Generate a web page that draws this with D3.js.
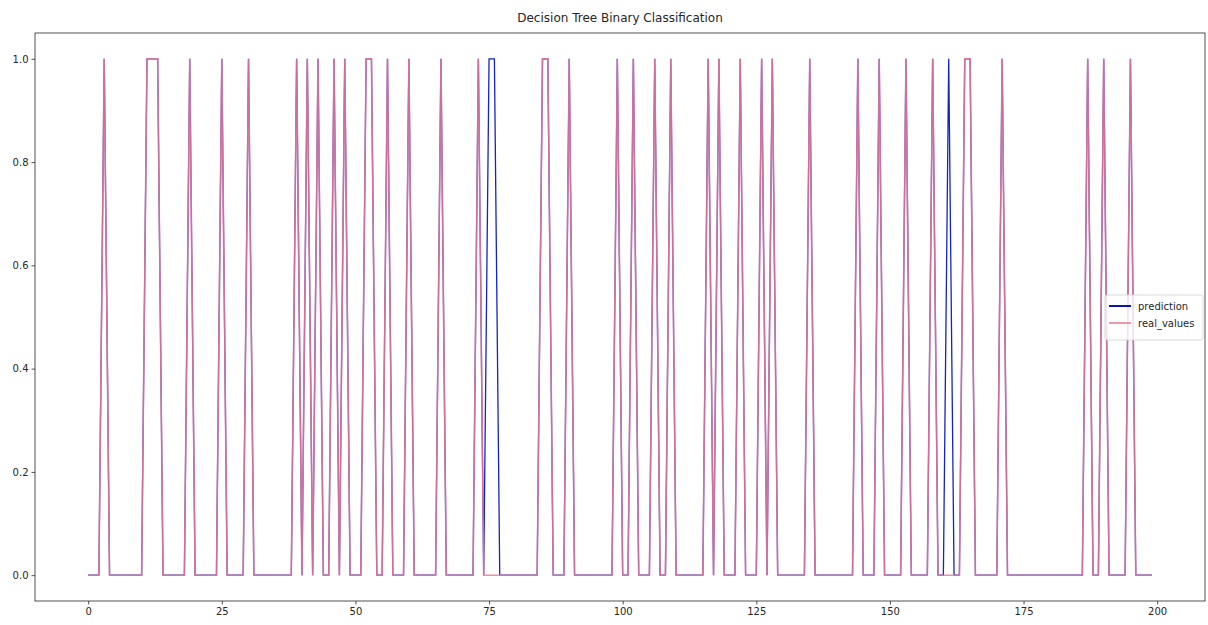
<!DOCTYPE html>
<meta charset="utf-8">
<style>
    body {
        margin: 0;
        background: #fff;
        font-family: "DejaVu Sans", sans-serif;
    }
    .axis text { font-size: 10px; fill: #262626; font-family: "DejaVu Sans", sans-serif; }
    .axis path, .axis line { stroke: #262626; stroke-width: 0.8; }
</style>
<body>
<script src="https://cdn.jsdelivr.net/npm/d3@7"></script>
<script>

// values, index 0..199
var realValues = [
  0,0,0,1,0,0,0,0,0,0,0,1,1,1,0,0,0,0,0,1,
  0,0,0,0,0,1,0,0,0,0,1,0,0,0,0,0,0,0,0,1,
  0,1,0,1,0,0,1,0,1,0,0,0,1,1,0,0,1,0,0,0,
  1,0,0,0,0,0,1,0,0,0,0,0,0,1,0,0,0,0,0,0,
  0,0,0,0,0,1,1,0,0,0,1,0,0,0,0,0,0,0,0,1,
  0,0,1,0,0,0,1,0,0,1,0,0,0,0,0,0,1,0,1,0,
  0,0,1,0,0,0,1,0,1,0,0,0,0,0,0,1,0,0,0,0,
  0,0,0,0,1,0,0,0,1,0,0,0,0,1,0,0,0,0,1,0,
  0,0,0,0,1,1,0,0,0,0,0,1,0,0,0,0,0,0,0,0,
  0,0,0,0,0,0,0,1,0,0,1,0,0,0,0,1,0,0,0,0
];

var prediction = [
  0,0,0,1,0,0,0,0,0,0,0,1,1,1,0,0,0,0,0,1,
  0,0,0,0,0,1,0,0,0,0,1,0,0,0,0,0,0,0,0,1,
  0,1,0,1,0,0,1,0,1,0,0,0,1,1,0,0,1,0,0,0,
  1,0,0,0,0,0,1,0,0,0,0,0,0,1,0,1,1,0,0,0,
  0,0,0,0,0,1,1,0,0,0,1,0,0,0,0,0,0,0,0,1,
  0,0,1,0,0,0,1,0,0,1,0,0,0,0,0,0,1,0,1,0,
  0,0,1,0,0,0,1,0,1,0,0,0,0,0,0,1,0,0,0,0,
  0,0,0,0,1,0,0,0,1,0,0,0,0,1,0,0,0,0,1,0,
  0,1,0,0,1,1,0,0,0,0,0,1,0,0,0,0,0,0,0,0,
  0,0,0,0,0,0,0,1,0,0,1,0,0,0,0,1,0,0,0,0
];

var xTicks = [0, 25, 50, 75, 100, 125, 150, 175, 200];
var yTicks = [0.0, 0.2, 0.4, 0.6, 0.8, 1.0];
var seriesNames = ["prediction", "real_values"];

var width = 1208, height = 625;
var margin = {top: 33, right: 3, bottom: 24, left: 35};
var w = width - margin.left - margin.right,
    h = height - margin.top - margin.bottom;

var svg = d3.select("body").append("svg")
    .attr("width", width)
    .attr("height", height);

var g = svg.append("g")
    .attr("transform", "translate(" + margin.left + "," + margin.top + ")");

// matplotlib style 5% margins
var n = realValues.length;
var x = d3.scaleLinear()
    .domain([-0.05 * (n - 1), (n - 1) * 1.05])
    .range([0, w]);
var y = d3.scaleLinear()
    .domain([-0.05, 1.05])
    .range([h, 0]);

var line = d3.line()
    .x(function(d, i) { return x(i); })
    .y(function(d) { return y(d); });

var colors = ["#1424c0", "#ea7e98"];

g.append("path")
    .datum(prediction)
    .attr("fill", "none")
    .attr("stroke", colors[0])
    .attr("stroke-width", 1.3)
    .attr("d", line);

g.append("path")
    .datum(realValues)
    .attr("fill", "none")
    .attr("stroke", colors[1])
    .attr("stroke-opacity", 0.85)
    .attr("stroke-width", 1.6)
    .attr("d", line);

// axes
g.append("g")
    .attr("class", "axis")
    .attr("transform", "translate(0," + h + ")")
    .call(d3.axisBottom(x).tickValues(xTicks).tickSize(3.5).tickSizeOuter(0).tickFormat(d3.format("d")))
    .call(function(a) { a.select(".domain").remove(); });

g.append("g")
    .attr("class", "axis")
    .call(d3.axisLeft(y).tickValues(yTicks).tickSize(3.5).tickSizeOuter(0).tickFormat(d3.format(".1f")))
    .call(function(a) { a.select(".domain").remove(); });

g.append("rect")
    .attr("width", w)
    .attr("height", h)
    .attr("fill", "none")
    .attr("stroke", "#262626")
    .attr("stroke-width", 0.8);

// title
svg.append("text")
    .attr("x", margin.left + w / 2)
    .attr("y", 22)
    .attr("text-anchor", "middle")
    .style("font-size", "12px")
    .style("fill", "#262626")
    .text("Decision Tree Binary Classification");

// legend
var legend = svg.append("g")
    .attr("transform", "translate(1105,295)");

legend.append("rect")
    .attr("width", 98)
    .attr("height", 45)
    .attr("rx", 2)
    .attr("fill", "#fff")
    .attr("fill-opacity", 0.8)
    .attr("stroke", "#d0d0d0")
    .attr("stroke-width", 0.8);

seriesNames.forEach(function(name, i) {
    var yy = 11 + i * 17;
    legend.append("line")
        .attr("x1", 4).attr("x2", 26)
        .attr("y1", yy).attr("y2", yy)
        .attr("stroke", i == 0 ? "#0a14b4" : colors[1])
        .attr("stroke-width", i == 0 ? 2 : 1.6);
    legend.append("text")
        .attr("x", 33)
        .attr("y", yy + 3.5)
        .style("font-size", "10px")
        .style("fill", "#262626")
        .text(name);
});

</script>
</body>
